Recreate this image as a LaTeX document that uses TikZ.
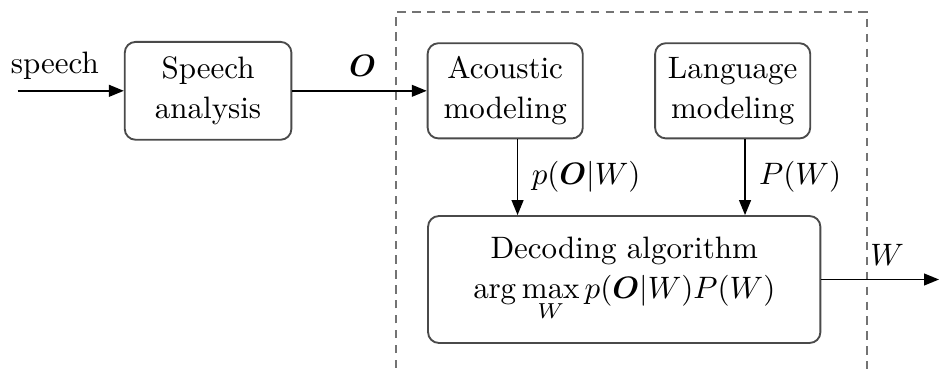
\documentclass[tikz,border=0pt]{standalone}
\usepackage{amsmath, amssymb}
\usepackage{tikz}
\usetikzlibrary{arrows.meta, positioning, calc}
\definecolor{boxGray}{HTML}{4A4A4A}

\begin{document}
\begin{tikzpicture}[
    block/.style={draw=boxGray, line width=0.6pt, rounded corners=3.5pt, align=center, inner sep=2pt},
    link/.style={-{Triangle[length=4.8pt, width=3.8pt]}, line width=0.5pt},
    every node/.style={font=\normalsize}]
    \useasboundingbox (0,0) rectangle (10.65,4.21);
    % dashed region
    \draw[gray!90!black, line width=0.6pt, dash pattern=on 2.7pt off 2.1pt] (4.49,-0.3) -- (4.49,4.07) -- (9.83,4.07) -- (9.83,-0.3);
    \node[block, minimum width=1.89cm, minimum height=1.11cm] (sa) at (2.36,3.18) {Speech\\[1pt]analysis};
    \node[block, minimum width=1.76cm, minimum height=1.08cm] (am) at (5.73,3.18) {Acoustic\\[1pt]modeling};
    \node[block, minimum width=1.76cm, minimum height=1.08cm] (lm) at (8.31,3.18) {Language\\[1pt]modeling};
    \node[block, minimum width=4.45cm, minimum height=1.44cm] (dec) at (7.08,1.04)
      {Decoding algorithm\\[1pt] $\displaystyle\arg\max_W p(\boldsymbol{O}|W)P(W)$};
    \coordinate (in) at (0.2,3.18);
    \coordinate (out) at (10.65,1.04);
    \draw[link] (in) -- node[above=0pt, pos=0.35] {speech} (sa);
    \draw[link] (sa) -- node[above=1pt, xshift=1pt] {$\boldsymbol{O}$} (am);
    \draw[link] ([xshift=0.14cm]am.south) -- node[right=1pt] {$p(\boldsymbol{O}|W)$} ([xshift=0.14cm]am.south |- dec.north);
    \draw[link] ([xshift=0.14cm]lm.south) -- node[right=1pt] {$P(W)$} ([xshift=0.14cm]lm.south |- dec.north);
    \draw[link] (dec) -- node[above=1pt, pos=0.56] {$W$} (out);
  \end{tikzpicture}
\end{document}
